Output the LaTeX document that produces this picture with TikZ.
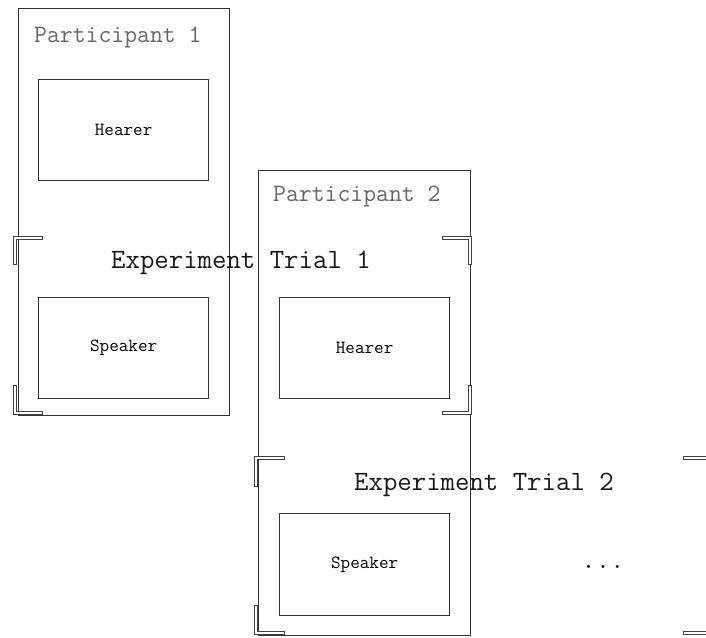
\documentclass[tikz,border=0pt]{standalone}
\usepackage{fontspec}
\setmainfont{Liberation Serif}
\newfontfamily\monofnt{Latin Modern Mono}
\begin{document}
\begin{tikzpicture}[x=1pt,y=-1pt,
  participant/.style={draw=black!80, line width=0.9pt, rectangle, inner sep=0pt, anchor=north west},
  rolebox/.style={draw=black!80, line width=1.3pt, rectangle, inner sep=0pt, anchor=north west,
                  minimum width=170pt, minimum height=101pt, font=\monofnt\fontsize{18.6}{20}\selectfont},
  ptitle/.style={anchor=base west, inner sep=0pt, text=black!60, font=\monofnt\fontsize{25}{28}\selectfont},
  trial/.style={anchor=base west, inner sep=0pt, text=black!90, font=\monofnt\fontsize{28}{31}\selectfont},
  bracketout/.style={draw=black!75, line width=4.4pt, line join=miter},
  bracketin/.style={draw=white, line width=2.2pt, line join=miter, shorten <=1.1pt, shorten >=1.1pt}]
\useasboundingbox (0,0) rectangle (706,637);

% participant frames
\node[participant, minimum width=211pt, minimum height=407pt] (p1) at (18,8) {};
\node[participant, minimum width=212pt, minimum height=465pt] (p2) at (258,170) {};

% role boxes
\node[rolebox] (h1) at (38,79) {Hearer};
\node[rolebox] (s1) at (38,297) {Speaker};
\node[rolebox] (h2) at (279,297) {Hearer};
\node[rolebox, minimum height=102pt] (s2) at (279,513) {Speaker};

% titles
\node[ptitle] (t1) at (34,42) {Participant 1};
\node[ptitle] (t2) at (273,201) {Participant 2};

% trial labels
\node[trial] (e1) at (111,268) {Experiment Trial 1};
\node[trial] (e2) at (354,490) {Experiment Trial 2};
\node[trial, anchor=base] (dots) at (603,568) {...};

% hollow corner brackets: dark outline, white core
\newcommand\cornermark[3]{%
  \draw[bracketout] #1 -- #2 -- #3;
  \draw[bracketin] #1 -- #2 -- #3;}

% trial 1
\coordinate (a1) at (15,238);
\coordinate (a2) at (15,413);
\coordinate (a3) at (470,238);
\coordinate (a4) at (470,413);
\cornermark{([xshift=28pt]a1)}{(a1)}{([yshift=-27pt]a1)}
\cornermark{([yshift=28pt]a2)}{(a2)}{([xshift=28pt]a2)}
\cornermark{([xshift=-28pt]a3)}{(a3)}{([yshift=-27pt]a3)}
\cornermark{([yshift=28pt]a4)}{(a4)}{([xshift=-28pt]a4)}

% trial 2
\coordinate (b1) at (256,458);
\coordinate (b2) at (256,633);
\coordinate (b3) at (683,458);
\coordinate (b4) at (683,633);
\cornermark{([xshift=29pt]b1)}{(b1)}{([yshift=-29pt]b1)}
\cornermark{([yshift=28pt]b2)}{(b2)}{([xshift=29pt]b2)}
\draw[bracketout] (b3) -- ([xshift=26pt]b3);
\draw[bracketin] (b3) -- ([xshift=26pt]b3);
\draw[bracketout] (b4) -- ([xshift=26pt]b4);
\draw[bracketin] (b4) -- ([xshift=26pt]b4);
\end{tikzpicture}
\end{document}
